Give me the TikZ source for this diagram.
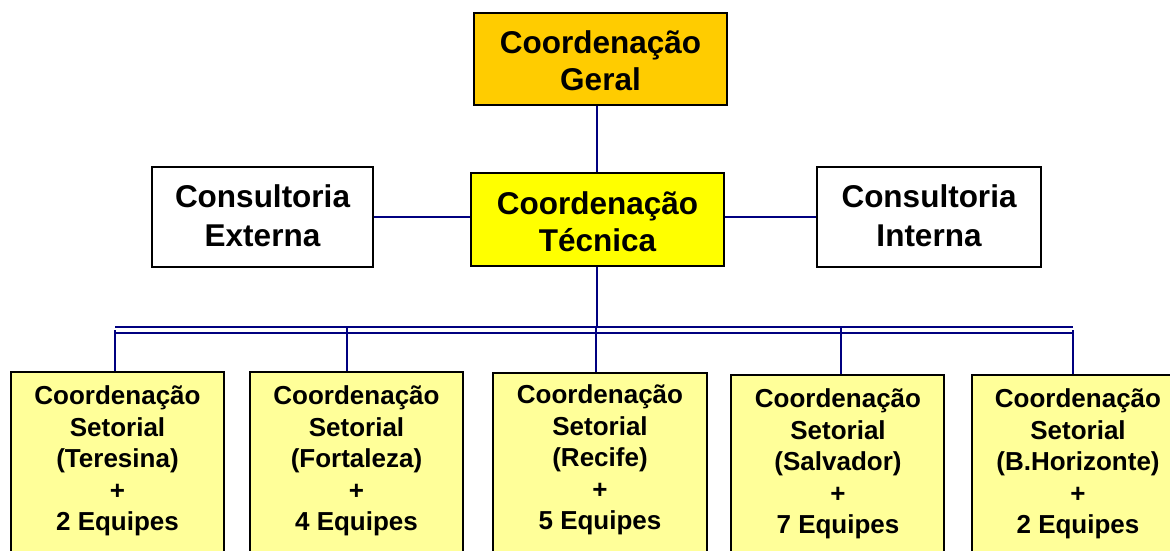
\documentclass[tikz,border=0pt]{standalone}
\usepackage{fontspec}
\setmainfont{Liberation Sans}
\definecolor{navyline}{RGB}{0,0,128}
\definecolor{gold}{RGB}{255,204,0}
\definecolor{brightyellow}{RGB}{255,255,0}
\definecolor{paleyellow}{RGB}{255,255,153}
\tikzset{
  boxshape/.style={draw=black, line width=1.8pt, rectangle, inner sep=0pt},
  conn/.style={draw=navyline, line width=2pt},
  bigtext/.style={align=center, font=\fontsize{31.5}{37}\selectfont\bfseries, inner sep=0pt},
  smalltext/.style={align=center, font=\fontsize{26}{31.5}\selectfont\bfseries, inner sep=0pt},
  sector/.style={boxshape, fill=paleyellow, minimum width=213pt, minimum height=200pt, anchor=north}
}
\begin{document}
\begin{tikzpicture}[x=1pt,y=-1pt]
\useasboundingbox (0,0) rectangle (1170,550);
\clip (0,0) rectangle (1170,550);
% top boxes
\node[boxshape, fill=gold, minimum width=253pt, minimum height=92pt] (cg) at (600.5,59) {};
\node[bigtext] (cgt) at (600.5,60.5) {Coordenação\\Geral};
\node[boxshape, fill=brightyellow, minimum width=253pt, minimum height=93pt] (ct) at (597.5,219.5) {};
\node[bigtext] (ctt) at (597.5,221.5) {Coordenação\\Técnica};
\node[boxshape, fill=white, minimum width=221pt, minimum height=100pt] (ce) at (262.5,217) {};
\node[bigtext, font=\fontsize{31.5}{39}\selectfont\bfseries] (cet) at (262.5,216) {Consultoria\\Externa};
\node[boxshape, fill=white, minimum width=224pt, minimum height=100pt] (ci) at (929,217) {};
\node[bigtext, font=\fontsize{31.5}{39}\selectfont\bfseries] (cit) at (929,216) {Consultoria\\Interna};
% sector boxes
\node[sector] (b1) at (117.5,371) {};
\node[sector] (b2) at (356.5,371) {};
\node[sector, minimum width=214pt] (b3) at (600,372) {};
\node[sector] (b4) at (837.5,374) {};
\node[sector] (b5) at (1078.5,374) {};
\node[smalltext] (t1) at (117.5,461) {Coordenação\\Setorial\\(Teresina)\\+\\2 Equipes};
\node[smalltext] (t2) at (356.5,461) {Coordenação\\Setorial\\(Fortaleza)\\+\\4 Equipes};
\node[smalltext] (t3) at (600,460) {Coordenação\\Setorial\\(Recife)\\+\\5 Equipes};
\node[smalltext] (t4) at (838,464) {Coordenação\\Setorial\\(Salvador)\\+\\7 Equipes};
\node[smalltext] (t5) at (1078,464) {Coordenação\\Setorial\\(B.Horizonte)\\+\\2 Equipes};
% bus and drop coordinates
\coordinate (busL) at (115,327);
\coordinate (busR) at (1073,327);
\coordinate (busL2) at (115,333);
\coordinate (busR2) at (1073,333);
\coordinate (vtop) at (597,0);
\coordinate (d2) at (347,327);
\coordinate (d3) at (596,327);
\coordinate (d4) at (841,327);
% connectors
\draw[conn] (vtop |- cg.south) -- (vtop |- ct.north);
\draw[conn] (ce.east) -- (ce.east -| ct.west);
\draw[conn] (ct.east |- ci.west) -- (ci.west);
\draw[conn] (vtop |- ct.south) -- (vtop |- busL);
\draw[conn] (busL) -- (busR);
\draw[conn] (busL2) -- (busR2);
\draw[conn] ([yshift=-3pt]busL) -- (busL |- b1.north);
\draw[conn] ([yshift=-3pt]busR) -- (busR |- b5.north);
\draw[conn] (d2) -- (d2 |- b2.north);
\draw[conn] (d3) -- (d3 |- b3.north);
\draw[conn] (d4) -- (d4 |- b4.north);
\end{tikzpicture}
\end{document}
